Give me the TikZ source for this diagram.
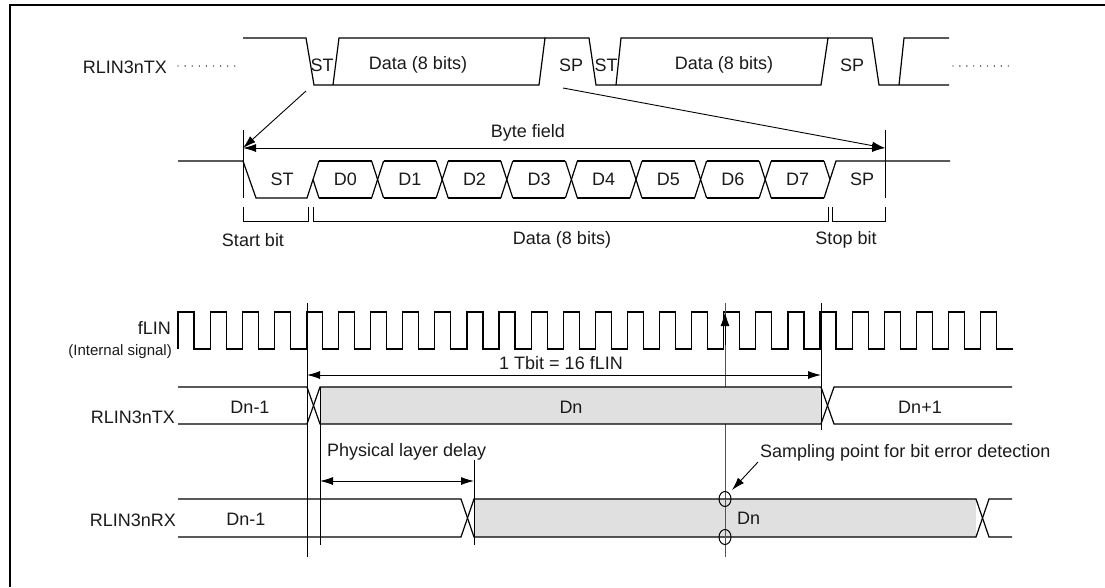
\documentclass[tikz,border=0pt]{standalone}
\usepackage{fontspec}
\setmainfont{Liberation Sans}
\usetikzlibrary{arrows.meta,positioning,calc}
\definecolor{rlfill}{HTML}{E0E0E0}
\definecolor{rltext}{HTML}{1A1A1A}
\definecolor{rlguide}{HTML}{555555}
\tikzstyle{wave} = [line width=1.2pt, black, line join=miter]
\tikzstyle{guide} = [line width=0.9pt, black]
\tikzstyle{dimarrow} = [{Latex[length=13pt,width=8pt]}-{Latex[length=13pt,width=8pt]}, line width=0.9pt]
\tikzstyle{onearrow} = [-{Latex[length=13pt,width=8pt]}, line width=0.9pt]
\tikzstyle{lbl} = [font=\fontsize{18}{21}\selectfont, text=rltext, inner sep=0pt]
\tikzstyle{small} = [font=\fontsize{15}{18}\selectfont, text=rltext, inner sep=0pt]

\begin{document}
\begin{tikzpicture}[x=1pt, y=-1pt]
\useasboundingbox (0,0) rectangle (1105,587);
\draw[line width=2pt] (9.5,587) -- (9.5,5) -- (1105,5);

% frame sequence on the bus
\def\hi{38} \def\lo{85}
\node[lbl, anchor=east] (txtop) at (167,67) {RLIN3nTX};
\foreach \i in {0,...,8} \fill (178+7.1*\i,66) circle (0.7);
\foreach \i in {0,...,8} \fill (953+6.9*\i,66) circle (0.7);
\draw[wave] (243,\hi) -- (306,\hi) -- (314,\lo) -- (539,\lo) -- (545,\hi) -- (589,\hi) -- (596,\lo)
  -- (821,\lo) -- (828,\hi) -- (872,\hi) -- (879,\lo) -- (949,\lo);
\draw[wave] (333,\lo) -- (339,\hi) -- (545,\hi);
\draw[wave] (616,\lo) -- (621,\hi) -- (828,\hi);
\draw[wave] (899,\lo) -- (904,\hi) -- (949,\hi);
\node[lbl] (st1) at (322,65) {ST};
\node[lbl] (data1) at (418,65) {Data (8 bits)};
\node[lbl] (sp1) at (571,65) {SP};
\node[lbl] (st2) at (606,65) {ST};
\node[lbl] (data2) at (724,65) {Data (8 bits)};
\node[lbl] (sp2) at (852,65) {SP};

% byte field
\def\bh{161} \def\bl{198} \def\bm{179.5}
\def\cw{64.6}
\draw[wave] (178,\bh) -- (243,\bh) -- (256,\bl) -- (307,\bl) -- (319,\bh);
\draw[wave] (313,\bm) -- (319,\bl);
\foreach \k in {0,...,7} {
  \draw[wave] ({313+\cw*\k+6},\bh) -- ({313+\cw*(\k+1)-6},\bh);
  \draw[wave] ({313+\cw*\k+6},\bl) -- ({313+\cw*(\k+1)-6},\bl);
  \node[lbl] (d\k) at ({313+\cw*(\k+0.5)},\bm) {D\k};
}
\foreach \k in {1,...,7} {
  \draw[wave] ({313+\cw*\k-6},\bh) -- ({313+\cw*\k+6},\bl);
  \draw[wave] ({313+\cw*\k-6},\bl) -- ({313+\cw*\k+6},\bh);
}
\draw[wave] (824,\bl) -- (836,\bh) -- (950,\bh);
\draw[wave] (824,\bh) -- (830,\bm);
\node[lbl] (stb) at (282,\bm) {ST};
\node[lbl] (spb) at (862,\bm) {SP};

\coordinate (bfl) at (243,148);
\coordinate (bfr) at (885,148);
\draw[guide] (243,130) -- (243,198);
\draw[guide] (885,130) -- (885,198);
\draw[dimarrow] (bfl) -- (bfr);
\node[lbl] (bytefield) at (528,133) {Byte field};
\draw[onearrow] (306,91) -- (bfl);
\draw[onearrow] (563,88) -- (bfr);

\draw[guide] (243,207) -- (243,221) -- (308,221) -- (308,207);
\draw[guide] (313,207) -- (313,221) -- (828,221) -- (828,207);
\draw[guide] (832,207) -- (832,221) -- (885,221) -- (885,207);
\node[lbl] (startbit) at (253,240) {Start bit};
\node[lbl] (databits) at (562,240) {Data (8 bits)};
\node[lbl] (stopbit) at (846,240) {Stop bit};

% bit error detection timing
\draw[wave] (178,349) \foreach \k in {0,...,25} { -- ++(0,-37) -- ++(16.05,0) -- ++(0,37) -- ++(16.05,0) };
\node[lbl, anchor=east] (flin) at (171,328) {fLIN};
\node[small, anchor=east] (intsig) at (172,352) {(Internal signal)};

\draw[guide] (307,303) -- (307,557);
\draw[guide] (821,303) -- (821,430);
\draw[line width=1pt, rlguide] (725,303) -- (725,557);
\draw[-{Latex[length=14pt,width=9pt]}, line width=1pt, black] (725,345) -- (725,312);

\draw[dimarrow] (307,375) -- (821,375);
\node[lbl] (tbit) at (561,363) {1 Tbit = 16 fLIN};

\def\th{387} \def\tl{424}
\fill[rlfill] (320,\th) rectangle (821,\tl);
\draw[wave] (178,\th) -- (307,\th) -- (320,\tl) -- (821,\tl) -- (834,\th) -- (1012,\th);
\draw[wave] (178,\tl) -- (307,\tl) -- (320,\th) -- (821,\th) -- (834,\tl) -- (1012,\tl);
\node[lbl, anchor=base east] (txlbl) at (175,423) {RLIN3nTX};
\node[lbl] (txprev) at (250,407) {Dn-1};
\node[lbl] (txcur) at (571,407) {Dn};
\node[lbl] (txnext) at (920,407) {Dn+1};

\draw[guide] (320,\th) -- (320,545);
\draw[guide] (474,460) -- (474,545);
\node[lbl, anchor=west] (phy) at (327,452) {Physical layer delay};
\draw[dimarrow] (320,481) -- (474,481);

\def\rh{499} \def\rl{537}
\fill[rlfill] (474,\rh) rectangle (976,\rl);
\draw[wave] (178,\rh) -- (461,\rh) -- (474,\rl) -- (976,\rl) -- (989,\rh) -- (1012,\rh);
\draw[wave] (178,\rl) -- (461,\rl) -- (474,\rh) -- (976,\rh) -- (989,\rl) -- (1012,\rl);
\draw[guide] (320,\rh) -- (320,545);
\draw[guide] (474,\rh) -- (474,545);
\draw[line width=1pt, rlguide] (725,\rh) -- (725,557);
\node[lbl, anchor=east] (rxlbl) at (176,520) {RLIN3nRX};
\node[lbl] (rxprev) at (246,519) {Dn-1};
\node[lbl, anchor=west] (rxcur) at (737,518) {Dn};

\draw[line width=1pt] (725,\rh) ellipse (6 and 7.5);
\draw[line width=1pt] (725,\rl) ellipse (6 and 7.5);
\node[lbl, anchor=west] (sample) at (760,453) {Sampling point for bit error detection};
\draw[onearrow] (758,462) -- (732,490);
\end{tikzpicture}
\end{document}
